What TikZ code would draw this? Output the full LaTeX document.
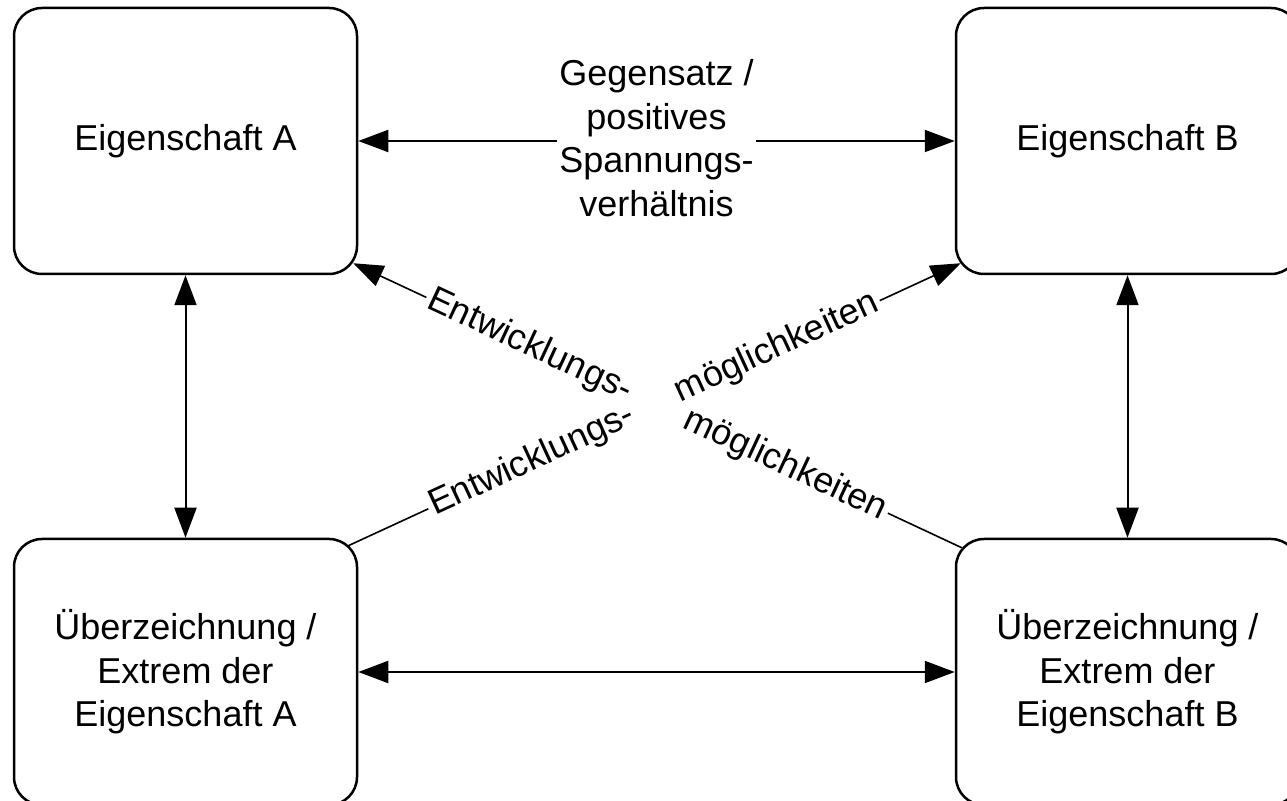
\documentclass[tikz,border=0pt]{standalone}
\usepackage{fontspec}
\setmainfont{Liberation Sans}
\usetikzlibrary{arrows.meta,calc}
\begin{document}
\begin{tikzpicture}[x=0.5pt,y=-0.5pt,
  every node/.style={font=\fontsize{18pt}{21.75pt}\selectfont, text=black},
  box/.style={draw, line width=1.25pt, rounded corners=14pt, minimum width=171.5pt, minimum height=133pt, align=center, inner sep=0pt},
  tip/.tip={Triangle[length=15pt,width=11pt]},
  arr/.style={line width=1pt, tip-tip},
  diag/.style={line width=0.8pt, -tip},
  lab/.style={sloped, fill=white, inner xsep=1.5pt, inner ysep=1pt}]
\useasboundingbox (0,0) rectangle (1287,801);
\clip (0,0) rectangle (1287,801);
\node[box] (A) at (185.5,141) {Eigenschaft A};
\node[box] (B) at (1127.5,141) {Eigenschaft B};
\node[box] (C) at (185.5,672) {Überzeichnung /\\Extrem der\\Eigenschaft A};
\node[box] (D) at (1127.5,672) {Überzeichnung /\\Extrem der\\Eigenschaft B};
\draw[arr] (A) -- (B) node[midway, yshift=1.5pt, fill=white, align=center, inner xsep=1pt, inner ysep=0pt] (T) {Gegensatz /\\positives\\Spannungs-\\verhältnis};
\draw[arr] (A) -- (C);
\draw[arr] (B) -- (D);
\draw[arr] (C) -- (D);
\coordinate (a1) at ($(A.south east)+(-5,-12)$);
\coordinate (d1) at ($(D.north west)+(7,10)$);
\coordinate (c1) at ($(C.north east)+(-10,8)$);
\coordinate (b1) at ($(B.south west)+(6,-12)$);
\draw[diag] (d1) -- (a1);
\draw[diag] (c1) -- (b1);
\node[circle, fill=white, minimum size=33pt, inner sep=0pt] (X) at (intersection of a1--d1 and c1--b1) {};
\path (a1) -- (d1) node[lab,pos=.29] (e1) {Entwicklungs-} node[lab,pos=.71] (m1) {möglichkeiten};
\path (c1) -- (b1) node[lab,pos=.30] (e2) {Entwicklungs-} node[lab,pos=.70] (m2) {möglichkeiten};
\end{tikzpicture}
\end{document}
